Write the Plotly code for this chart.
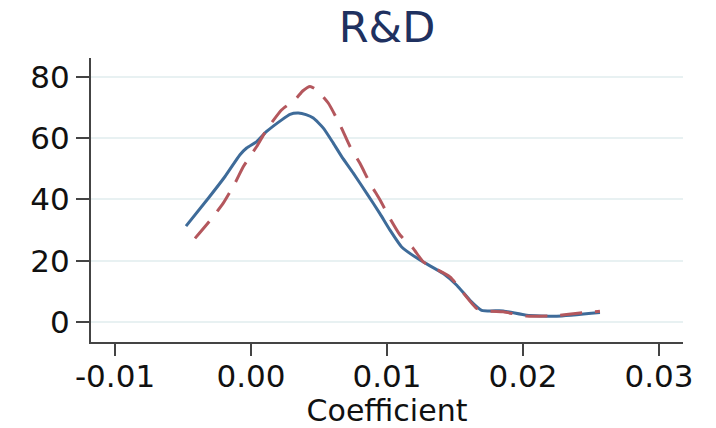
import plotly.graph_objects as go

# Kernel density estimates of the R&D coefficient
coef_a = [-0.00478, -0.00314, -0.00191, -0.00081, -0.00032, 0.00042, 0.00115,
          0.00226, 0.00287, 0.00348, 0.00404, 0.00458, 0.00532, 0.00605, 0.00667,
          0.00752, 0.00851, 0.00949, 0.01022, 0.01108, 0.01243, 0.01414, 0.01513,
          0.01610, 0.01696, 0.01855, 0.02027, 0.02248, 0.02566]
dens_a = [31.3, 40.4, 47.5, 54.6, 56.8, 58.9, 62.2,
          66.0, 67.8, 68.2, 67.7, 66.6, 63.3, 58.4, 54.0,
          48.6, 42.0, 35.3, 30.0, 24.5, 20.2, 15.8, 12.0,
          7.1, 3.8, 3.6, 2.2, 1.9, 3.1]

coef_b = [-0.00412, -0.00289, -0.00204, -0.00118, -0.00057, 0.00042, 0.00115,
          0.00226, 0.00324, 0.00382, 0.00434, 0.00483, 0.00568, 0.00654, 0.00728,
          0.00801, 0.00875, 0.00949, 0.01022, 0.01096, 0.01193, 0.01267, 0.01463,
          0.01660, 0.01757, 0.01855, 0.02027, 0.02221, 0.02419, 0.02566]
dens_b = [27.3, 33.8, 38.8, 45.3, 50.7, 57.3, 62.8,
          69.3, 72.6, 75.5, 76.9, 75.8, 71.5, 64.4, 57.3,
          51.8, 45.3, 39.8, 33.8, 28.4, 24.0, 19.6, 14.7,
          4.4, 3.5, 3.3, 1.9, 2.0, 2.9, 3.5]

x_ticks = [-0.01, 0.00, 0.01, 0.02, 0.03]
x_tick_labels = ["-0.01", "0.00", "0.01", "0.02", "0.03"]
y_ticks = [0, 20, 40, 60, 80]

FONT = "DejaVu Sans"

fig = go.Figure()
# solid density first, dashed density drawn over it
fig.add_trace(go.Scatter(
    x=coef_a, y=dens_a, mode="lines",
    line=dict(color="#3e6b99", width=3, shape="spline", smoothing=0.5),
    showlegend=False, hoverinfo="skip",
))
fig.add_trace(go.Scatter(
    x=coef_b, y=dens_b, mode="lines",
    line=dict(color="#b4575d", width=3, dash="22px,13px", shape="spline", smoothing=0.5),
    showlegend=False, hoverinfo="skip",
))

fig.update_layout(
    width=716, height=428,
    margin=dict(l=91, r=33, t=58, b=86),
    paper_bgcolor="white", plot_bgcolor="white",
    title=dict(
        text="R&D", x=0.5, xref="paper", xanchor="center",
        y=1 - 27 / 428, yref="container", yanchor="middle",
        font=dict(family=FONT, size=43, color="#1f3160"),
    ),
    xaxis=dict(
        range=[-0.011765, 0.031765],
        tickvals=x_ticks, ticktext=x_tick_labels,
        ticks="outside", ticklen=12, tickwidth=2, tickcolor="#444",
        ticklabelstandoff=-6,
        showline=True, linecolor="#444", linewidth=2,
        showgrid=False, zeroline=False,
        tickfont=dict(family=FONT, size=31, color="#111"),
        title=dict(text="Coefficient", standoff=4,
                   font=dict(family=FONT, size=30, color="#111")),
        automargin=False,
    ),
    yaxis=dict(
        range=[-6.55, 86.2],
        tickvals=y_ticks,
        ticks="outside", ticklen=13, tickwidth=2, tickcolor="#444",
        showline=True, linecolor="#444", linewidth=2,
        showgrid=True, gridcolor="#e8f1f2", gridwidth=2,
        zeroline=False,
        tickfont=dict(family=FONT, size=31, color="#111"),
        automargin=False,
    ),
)

fig.write_html("out.html")
